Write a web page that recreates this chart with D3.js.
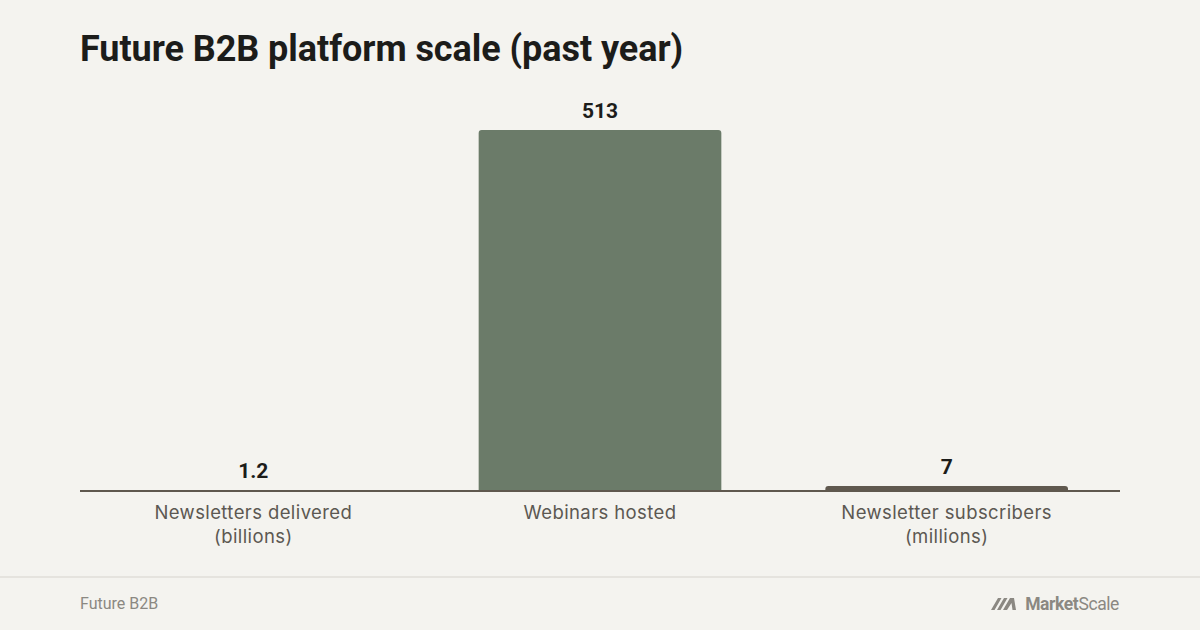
<!DOCTYPE html>
<html><head><meta charset="utf-8">
<script src="https://cdn.jsdelivr.net/npm/d3@7"></script>
<style>
html,body{margin:0;padding:0;background:#f4f3ef;}
svg{display:block;}
</style></head>
<body>
<script>
const categories = [["Newsletters delivered","(billions)"],["Webinars hosted"],["Newsletter subscribers","(millions)"]];
const values = [1.2, 513, 7];
const valueLabels = ["1.2","513","7"];
const barColors = ["#b4694f","#6b7b69","#5f584e"];
const title = "Future B2B platform scale (past year)";
const source = "Future B2B";

const W=1200,H=630;
const svg=d3.select("body").append("svg").attr("width",W).attr("height",H);
svg.append("rect").attr("width",W).attr("height",H).attr("fill","#f4f3ef");

const m={left:80,right:80,top:130,bottom:491};
const x=d3.scaleBand().domain(d3.range(values.length)).range([m.left,W-m.right]).paddingInner(0.3).paddingOuter(0.15);
const y=d3.scaleLinear().domain([0,d3.max(values)]).range([m.bottom,m.top]);

svg.append("text").attr("x",80).attr("y",61).text(title)
  .attr("font-family","Roboto, 'Liberation Sans', sans-serif").attr("font-weight",700)
  .attr("font-size",36).attr("fill","#1c1c1a").attr("letter-spacing","-0.2")
  .attr("textLength",603).attr("lengthAdjust","spacing");

const r=3;
values.forEach((v,i)=>{
  const x0=x(i), w=x.bandwidth(), y0=y(v), h=y(0)-y(v);
  const rr=Math.min(r,h);
  const p=d3.path();
  p.moveTo(x0,y(0));
  p.lineTo(x0,y0+rr);
  p.quadraticCurveTo(x0,y0,x0+rr,y0);
  p.lineTo(x0+w-rr,y0);
  p.quadraticCurveTo(x0+w,y0,x0+w,y0+rr);
  p.lineTo(x0+w,y(0));
  p.closePath();
  svg.append("path").attr("d",p.toString()).attr("fill",barColors[i]);
  svg.append("text").attr("x",x0+w/2).attr("y",y0-12).attr("text-anchor","middle")
    .text(valueLabels[i]).attr("font-family","Roboto, 'Liberation Sans', sans-serif")
    .attr("font-weight",700).attr("font-size",21).attr("fill","#1c1c1a");
});

// baseline axis
const xAxis=d3.axisBottom(x).tickSize(0).tickFormat("");
const ax=svg.append("g").attr("transform",`translate(0,${y(0)})`).call(xAxis);
ax.select(".domain").attr("stroke","#5f584e").attr("stroke-width",2).attr("d",`M${m.left},0H${W-m.right}`);

categories.forEach((lines,i)=>{
  const t=svg.append("text").attr("x",x(i)+x.bandwidth()/2).attr("y",519).attr("text-anchor","middle")
    .attr("font-family","Inter, 'Open Sans', sans-serif").attr("font-size",18.5).attr("letter-spacing","0.4").attr("fill","#5c5852");
  lines.forEach((l,j)=>t.append("tspan").attr("x",x(i)+x.bandwidth()/2).attr("dy",j?24:0).text(l));
});

// footer
svg.append("line").attr("x1",0).attr("x2",W).attr("y1",577).attr("y2",577).attr("stroke","#e5e3de").attr("stroke-width",2);
svg.append("text").attr("x",80).attr("y",609).text(source).attr("font-family","Roboto, sans-serif")
  .attr("font-size",16).attr("fill","#8b8882");

// logo
const lg=svg.append("g").attr("fill","#8b8882");
const lt=lg.append("text").attr("x",1119).attr("y",610).attr("text-anchor","end")
  .attr("font-family","Roboto, sans-serif").attr("font-size",17.5).attr("letter-spacing","-0.4");
lt.append("tspan").attr("font-weight",700).text("Market");
lt.append("tspan").attr("font-weight",400).text("Scale");
lg.append("path").attr("d","M991,610 L998,598 L1001.5,598 L994.5,610 Z M997,610 L1004,598 L1007.5,598 L1000.5,610 Z M1003,610 L1010,598 L1014,598 L1016,610 L1012.5,610 L1011.5,603 L1007,610 Z");
</script>
</body></html>
